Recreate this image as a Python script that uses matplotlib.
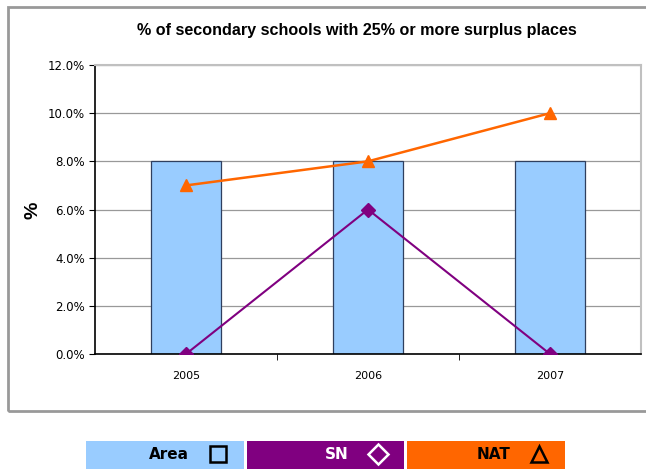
import matplotlib.pyplot as plt
from matplotlib.patches import Rectangle
from matplotlib.lines import Line2D
from matplotlib.ticker import FuncFormatter

years = ['2005', '2006', '2007']
area = [8.0, 8.0, 8.0]
sn = [0.0, 6.0, 0.0]
nat = [7.0, 8.0, 10.0]

W, H = 646, 469
fig = plt.figure(figsize=(W / 100, H / 100), dpi=100)

def fx(x):
    return x / W

def fy(y):
    return 1 - y / H

# outer chart frame (right edge runs off the picture)
fig.add_artist(Rectangle((fx(8), fy(411)), fx(650), 404 / H, transform=fig.transFigure,
                         fill=False, edgecolor='#999999', linewidth=2))

ax = fig.add_axes([fx(95), fy(354), fx(641 - 95), (354 - 65) / H])
x = range(len(years))
ax.bar(x, area, width=0.39, color='#99CCFF', edgecolor='#2F3F5F', linewidth=0.9, zorder=2)
ax.plot(x, sn, color='#800080', linewidth=1.5, marker='D', markersize=7, zorder=3)
ax.plot(x, nat, color='#FF6600', linewidth=1.8, marker='^', markersize=9, zorder=3)

ax.set_xlim(-0.5, 2.5)
ax.set_ylim(0, 12)
ax.set_yticks([0, 2, 4, 6, 8, 10, 12])
ax.yaxis.set_major_formatter(FuncFormatter(lambda v, p: '%.1f%%' % v))
ax.set_xticks(list(x))
ax.set_xticklabels(years)
ax.set_xticks([0.5, 1.5], minor=True)
ax.tick_params(axis='x', which='major', length=0, labelsize=8, pad=12)
ax.tick_params(axis='x', which='minor', length=4, direction='out')
ax.tick_params(axis='y', labelsize=8.5, length=4, direction='out', pad=3)
ax.grid(axis='y', color='#999999', linewidth=0.9, zorder=0)
ax.set_axisbelow(True)
for s in ['top', 'right']:
    ax.spines[s].set_color('#C0C0C0')
    ax.spines[s].set_linewidth(1.5)
ax.spines['left'].set_linewidth(1.2)
ax.spines['bottom'].set_linewidth(1.2)

fig.text(fx(357), fy(30), '% of secondary schools with 25% or more surplus places',
         ha='center', va='center', fontsize=11.6, fontweight='bold', family='Liberation Sans')
fig.text(fx(33), fy(210), '%', rotation=90, ha='center', va='center',
         fontsize=14, fontweight='bold', family='Liberation Sans')

# legend boxes under the chart
legend_items = [
    ('Area', '#99CCFF', 'black', 's', 86, 244),
    ('SN', '#800080', 'white', 'D', 247, 404),
    ('NAT', '#FF6600', 'black', '^', 407, 565),
]
for name, face, fg, mk, x0, x1 in legend_items:
    fig.add_artist(Rectangle((fx(x0), fy(469)), fx(x1 - x0), 28 / H,
                             transform=fig.transFigure, facecolor=face, edgecolor='none'))
    fig.text(fx(x1 - 55), fy(454), name, ha='right', va='center', fontsize=11,
             fontweight='bold', color=fg, family='DejaVu Sans')
    fig.add_artist(Line2D([fx(x1 - 26)], [fy(454)], transform=fig.transFigure, marker=mk,
                          markersize=12 if mk != 'D' else 10, markerfacecolor='none',
                          markeredgecolor=fg, markeredgewidth=1.8, linestyle='none'))

plt.savefig('out.png', dpi=100)
